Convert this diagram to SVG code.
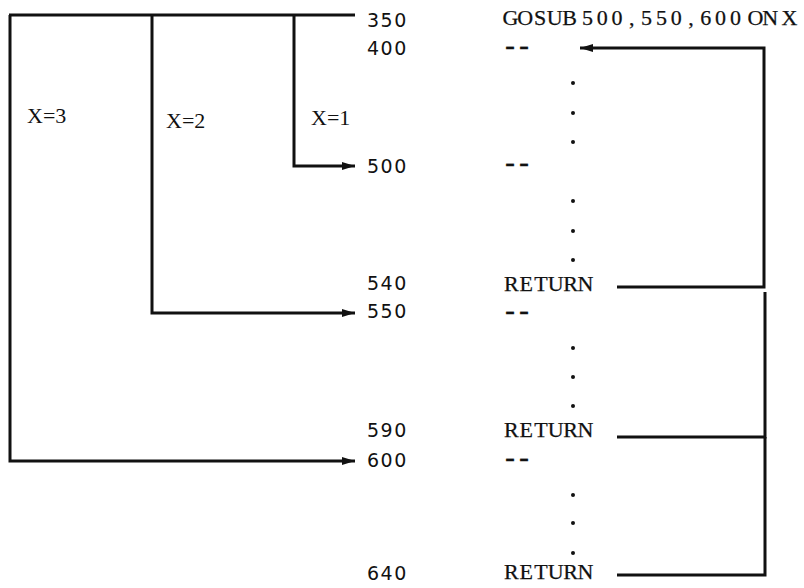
<svg xmlns="http://www.w3.org/2000/svg" width="804" height="588" viewBox="0 0 804 588">
<style>
.num{font-family:"DejaVu Sans",sans-serif;font-size:19px;letter-spacing:1.5px;fill:#111}
.code{font-family:"Liberation Serif","Times New Roman",serif;font-size:22px;fill:#111;stroke:#111;stroke-width:0.25;text-anchor:middle}
.dash{font-size:30px}
.lbl{font-family:"Liberation Serif","Times New Roman",serif;font-size:22px;fill:#111}
.ln{fill:none;stroke:#111;stroke-width:3;stroke-linejoin:miter}
.dot{fill:#111}
</style>
<defs>
<marker id="ah" markerUnits="userSpaceOnUse" markerWidth="14" markerHeight="10" refX="13" refY="4" orient="auto">
<path d="M0,0 L13,4 L0,8 z" fill="#111"/>
</marker>
</defs>
<g id="connectors">
<path class="ln" d="M9 15 H355"/>
<path class="ln" d="M294 15 V166 H355" marker-end="url(#ah)"/>
<path class="ln" d="M152 15 V313 H355" marker-end="url(#ah)"/>
<path class="ln" d="M10 15 V461 H355" marker-end="url(#ah)"/>
<path class="ln" d="M617 287 H764 V48 H580" marker-end="url(#ah)"/>
<path class="ln" d="M617 437 H765 V292"/>
<path class="ln" d="M617 575 H765 V437"/>
</g>
<g id="label-x3"><text class="lbl" x="27" y="123">X=3</text></g>
<g id="label-x2"><text class="lbl" x="166" y="128">X=2</text></g>
<g id="label-x1"><text class="lbl" x="311" y="125">X=1</text></g>
<g id="line-350"><text class="num" x="367" y="27">350</text><text class="code" y="25" x="510.4 525.2 540 554.8 569.6 587.4 602.2 617 631.8 646.6 661.4 676.2 691 705.8 720.6 735.4 755.4 770.2 789.5">GOSUB500,550,600ONX</text></g>
<g id="line-400"><text class="num" x="367" y="55">400</text><text class="code dash" x="510 524" y="55">--</text></g>
<g id="dots-1"><circle class="dot" cx="573" cy="83" r="2"/><circle class="dot" cx="573" cy="113" r="2"/><circle class="dot" cx="573" cy="142" r="2"/></g>
<g id="line-500"><text class="num" x="367" y="173">500</text><text class="code dash" x="510 524" y="172">--</text></g>
<g id="dots-2"><circle class="dot" cx="573" cy="201" r="2"/><circle class="dot" cx="573" cy="231" r="2"/><circle class="dot" cx="573" cy="260" r="2"/></g>
<g id="line-540"><text class="num" x="367" y="290">540</text><text class="code" x="511.4 526.2 541 555.8 570.6 585.4" y="291">RETURN</text></g>
<g id="line-550"><text class="num" x="367" y="318">550</text><text class="code dash" x="510 524" y="320">--</text></g>
<g id="dots-3"><circle class="dot" cx="573" cy="348" r="2"/><circle class="dot" cx="573" cy="377" r="2"/><circle class="dot" cx="573" cy="406" r="2"/></g>
<g id="line-590"><text class="num" x="367" y="437">590</text><text class="code" x="511.4 526.2 541 555.8 570.6 585.4" y="437">RETURN</text></g>
<g id="line-600"><text class="num" x="367" y="467">600</text><text class="code dash" x="510 524" y="467">--</text></g>
<g id="dots-4"><circle class="dot" cx="573" cy="495" r="2"/><circle class="dot" cx="573" cy="523" r="2"/><circle class="dot" cx="573" cy="553" r="2"/></g>
<g id="line-640"><text class="num" x="367" y="580">640</text><text class="code" x="511.4 526.2 541 555.8 570.6 585.4" y="579">RETURN</text></g>
</svg>
